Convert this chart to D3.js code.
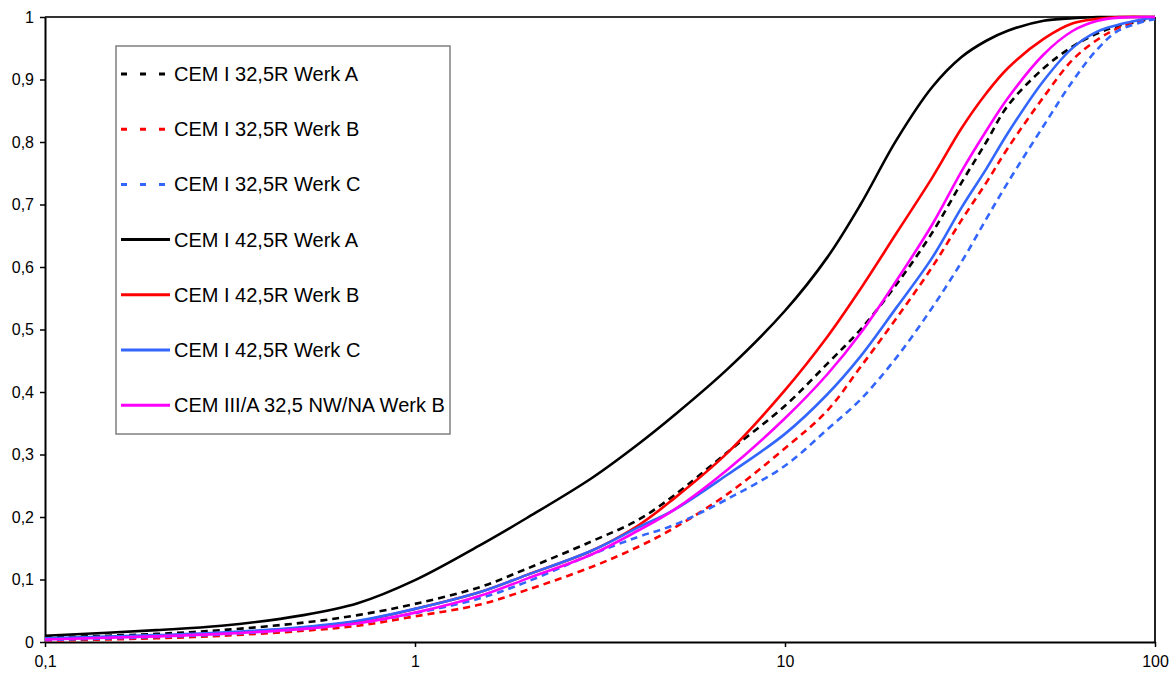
<!DOCTYPE html>
<html>
<head>
<meta charset="utf-8">
<script src="https://cdn.jsdelivr.net/npm/d3@7"></script>
<style>
  html, body { margin: 0; padding: 0; background: #fff; }
  svg { display: block; font-family: "Liberation Sans", Arial, sans-serif; }
</style>
</head>
<body>
<svg id="chart" width="1174" height="675"></svg>
<script>
// Particle size (mm) at which each passing fraction is given
const sizes = [0.1, 0.2, 0.3, 0.5, 0.7, 1, 1.5, 2, 3, 4, 5, 7, 10, 13, 16, 20, 25, 30, 35, 40, 50, 60, 70, 80, 100];

// Cumulative passing fraction per cement
const cem1_325_A = [0.007, 0.013, 0.019, 0.031, 0.043, 0.061, 0.088, 0.117, 0.161, 0.195, 0.234, 0.304, 0.378, 0.445, 0.500, 0.572, 0.655, 0.735, 0.800, 0.858, 0.918, 0.953, 0.974, 0.986, 0.998];
const cem1_325_B = [0.002, 0.006, 0.010, 0.018, 0.026, 0.041, 0.060, 0.083, 0.120, 0.152, 0.182, 0.237, 0.310, 0.370, 0.440, 0.518, 0.600, 0.675, 0.735, 0.790, 0.872, 0.932, 0.964, 0.983, 1.000];
const cem1_325_C = [0.003, 0.008, 0.012, 0.021, 0.030, 0.046, 0.070, 0.096, 0.140, 0.168, 0.187, 0.229, 0.282, 0.340, 0.388, 0.455, 0.535, 0.608, 0.677, 0.735, 0.826, 0.898, 0.949, 0.979, 0.997];
const cem1_425_A = [0.010, 0.019, 0.026, 0.043, 0.062, 0.099, 0.155, 0.198, 0.262, 0.316, 0.362, 0.437, 0.530, 0.615, 0.700, 0.803, 0.888, 0.936, 0.962, 0.978, 0.994, 0.998, 1.000, 1.000, 1.000];
const cem1_425_B = [0.005, 0.010, 0.014, 0.023, 0.033, 0.053, 0.080, 0.107, 0.146, 0.186, 0.229, 0.303, 0.403, 0.488, 0.565, 0.654, 0.743, 0.822, 0.878, 0.918, 0.965, 0.990, 0.997, 1.000, 1.000];
const cem1_425_C = [0.006, 0.011, 0.015, 0.024, 0.034, 0.053, 0.080, 0.107, 0.146, 0.183, 0.211, 0.268, 0.333, 0.396, 0.457, 0.535, 0.615, 0.695, 0.757, 0.814, 0.898, 0.951, 0.977, 0.988, 1.000];
const cem3a_325_B = [0.004, 0.009, 0.013, 0.021, 0.030, 0.047, 0.074, 0.101, 0.140, 0.178, 0.211, 0.276, 0.358, 0.428, 0.494, 0.578, 0.668, 0.753, 0.818, 0.870, 0.940, 0.978, 0.994, 0.999, 1.000];

const seriesNames = [
  "CEM I 32,5R Werk A",
  "CEM I 32,5R Werk B",
  "CEM I 32,5R Werk C",
  "CEM I 42,5R Werk A",
  "CEM I 42,5R Werk B",
  "CEM I 42,5R Werk C",
  "CEM III/A 32,5 NW/NA Werk B"
];
const seriesValues = [cem1_325_A, cem1_325_B, cem1_325_C, cem1_425_A, cem1_425_B, cem1_425_C, cem3a_325_B];
const seriesColors = ["#000000", "#ff0000", "#3366ff", "#000000", "#ff0000", "#3366ff", "#ff00ff"];
const seriesDashed = [true, true, true, false, false, false, false];

const xTicks = [0.1, 1, 10, 100];
const xTickLabels = ["0,1", "1", "10", "100"];
const yTicks = [0, 0.1, 0.2, 0.3, 0.4, 0.5, 0.6, 0.7, 0.8, 0.9, 1];
const yTickLabels = ["0", "0,1", "0,2", "0,3", "0,4", "0,5", "0,6", "0,7", "0,8", "0,9", "1"];

const svg = d3.select("#chart");
const plot = { left: 45, right: 1155, top: 17, bottom: 642 };

const x = d3.scaleLog().domain([0.1, 100]).range([plot.left, plot.right]);
const y = d3.scaleLinear().domain([0, 1]).range([plot.bottom, plot.top]);

// Plot frame: top and right edges
svg.append("line")
  .attr("x1", plot.left).attr("x2", plot.right)
  .attr("y1", plot.top).attr("y2", plot.top)
  .attr("stroke", "#333").attr("stroke-width", 2);
svg.append("line")
  .attr("x1", plot.right).attr("x2", plot.right)
  .attr("y1", plot.top).attr("y2", plot.bottom)
  .attr("stroke", "#222").attr("stroke-width", 2);

// Axes
const yAxis = d3.axisLeft(y)
  .tickValues(yTicks)
  .tickFormat((d, i) => yTickLabels[i])
  .tickSizeOuter(0)
  .tickSizeInner(5)
  .tickPadding(6);
const yG = svg.append("g").attr("transform", `translate(${plot.left},0)`).call(yAxis);

const xAxis = d3.axisBottom(x)
  .tickValues(xTicks)
  .tickFormat((d, i) => xTickLabels[i])
  .tickSizeOuter(0)
  .tickSizeInner(5)
  .tickPadding(9);
const xG = svg.append("g").attr("transform", `translate(0,${plot.bottom})`).call(xAxis);

[yG, xG].forEach(g => {
  g.select(".domain").attr("stroke", "#000").attr("stroke-width", 2);
  g.selectAll(".tick line").attr("stroke", "#000").attr("stroke-width", 1.5);
  g.selectAll(".tick text")
    .attr("fill", "#000")
    .style("font-size", "16px")
    .style("font-family", "'Liberation Sans', Arial, sans-serif");
});

// Legend box (drawn before the curves so they pass over it)
const legend = { x: 116, y: 46, w: 334, h: 388, first: 74, step: 55.2 };
svg.append("rect")
  .attr("x", legend.x).attr("y", legend.y)
  .attr("width", legend.w).attr("height", legend.h)
  .attr("fill", "#fff")
  .attr("stroke", "#7f7f7f").attr("stroke-width", 1.5);

// Curves
const line = d3.line()
  .x(d => x(d[0]))
  .y(d => y(d[1]))
  .curve(d3.curveCatmullRom.alpha(0.5));

seriesValues.forEach((vals, i) => {
  const pts = sizes.map((s, k) => [s, vals[k]]);
  svg.append("path")
    .datum(pts)
    .attr("d", line)
    .attr("fill", "none")
    .attr("stroke", seriesColors[i])
    .attr("stroke-width", 2.6)
    .attr("stroke-dasharray", seriesDashed[i] ? "7,5" : null);
});

// Legend entries
seriesNames.forEach((name, i) => {
  const cy = legend.first + i * legend.step;
  svg.append("line")
    .attr("x1", 121).attr("x2", 170)
    .attr("y1", cy).attr("y2", cy)
    .attr("stroke", seriesColors[i])
    .attr("stroke-width", 3)
    .attr("stroke-dasharray", seriesDashed[i] ? "6,13" : null);
  svg.append("text")
    .attr("x", 174).attr("y", cy + 7)
    .attr("fill", "#000")
    .style("font-size", "20px")
    .text(name);
});
</script>
</body>
</html>
